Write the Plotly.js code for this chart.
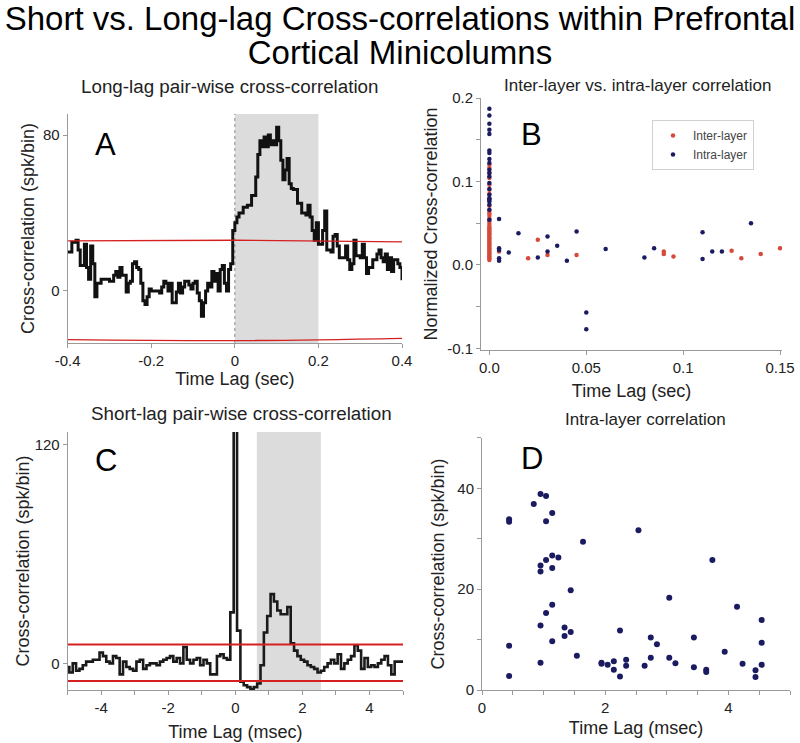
<!DOCTYPE html>
<html>
<head>
<meta charset="utf-8">
<script src="https://cdn.plot.ly/plotly-3.0.1.min.js"></script>
<style>html,body{margin:0;padding:0;background:#fff;}#chart{width:800px;height:743px;}</style>
</head>
<body>
<div id="chart"></div>
<script>
// ---------- Panel A: long-lag cross-correlogram (sec, spk/bin) ----------
var lagA = [-0.4,-0.39,-0.38,-0.375,-0.37,-0.36,-0.355,-0.35,-0.345,-0.34,-0.335,-0.33,-0.32,-0.31,-0.30,-0.29,-0.285,-0.28,-0.275,-0.27,-0.26,-0.255,-0.25,-0.245,-0.24,-0.235,-0.23,-0.225,-0.22,-0.215,-0.21,-0.205,-0.20,-0.19,-0.18,-0.175,-0.17,-0.165,-0.16,-0.155,-0.15,-0.14,-0.135,-0.13,-0.125,-0.12,-0.11,-0.105,-0.10,-0.095,-0.09,-0.085,-0.08,-0.075,-0.07,-0.065,-0.06,-0.055,-0.05,-0.045,-0.04,-0.035,-0.03,-0.025,-0.02,-0.015,-0.01,-0.005,0,0.005,0.01,0.02,0.03,0.04,0.05,0.055,0.06,0.065,0.07,0.075,0.08,0.085,0.09,0.095,0.10,0.105,0.11,0.115,0.12,0.125,0.13,0.135,0.14,0.15,0.16,0.17,0.175,0.18,0.185,0.19,0.195,0.20,0.21,0.215,0.22,0.23,0.235,0.24,0.245,0.25,0.26,0.265,0.27,0.275,0.28,0.285,0.29,0.30,0.305,0.31,0.315,0.32,0.33,0.34,0.345,0.35,0.355,0.36,0.365,0.37,0.375,0.38,0.39,0.395,0.40];
var ccA = [20,25,26,21,13,24,12,6,23,14,-3,4,6,6,5,8,10,7,12,8,-0.5,4,5,14,15,12,11,4,-5,-7,-3,1,0,0,-1,2,5,4,0,4,-6,-0.5,4,-1,2,5,3,1,4,5,-1,-5,-13,-6,0,4,2,10,5,9,0,11,13,4,0,11,14,31,35,38,40,43,44,49,58.5,70,77,74,79,74,80,75,77,75,84,77,67,57,62,68,55,52.5,52,45,40,39,44,38,31,26,35,24,31,41,21,20,28,29,23,17,17,23,16,11,14,26,18,17,24,17,9,12,16,19,21,17,15,19,11,17,10,16,14,12,5.5];
var confLagA = [-0.4, 0, 0.4];
var confUpperA = [25.7, 26.0, 25.2];
var confLowerA = [-25.0, -25.5, -24.3];
var windowA = [0, 0.2];

// ---------- Panel B: peak lag vs normalized cross-correlation ----------
var interLag = [0,0,0,0,0,0,0,0,0,0,0,0,0,0,0,0,0,0,0,0,0,0,0,0,0,0,0,0,0,0,0,0,0,0,0,0,0.005,0.02,0.025,0.03,0.045,0.09,0.09,0.095,0.125,0.13,0.14,0.15];
var interCC  = [0.120,0.116,0.110,0.104,0.096,0.090,0.085,0.079,0.071,0.065,0.062,0.059,0.055,0.052,0.049,0.046,0.044,0.042,0.040,0.038,0.036,0.034,0.032,0.030,0.028,0.026,0.024,0.022,0.020,0.018,0.016,0.014,0.012,0.010,0.008,0.006,0.016,0.008,0.030,0.012,0.012,0.016,0.013,0.010,0.017,0.008,0.013,0.020];
var intraLag = [0,0,0,0,0,0,0,0,0,0,0,0,0,0,0,0,0,0,0,0,0,0.005,0.005,0.005,0.005,0.005,0.01,0.015,0.025,0.03,0.03,0.035,0.04,0.045,0.05,0.05,0.06,0.08,0.085,0.11,0.11,0.115,0.12,0.135];
var intraCC  = [0.187,0.179,0.169,0.162,0.157,0.137,0.134,0.127,0.122,0.114,0.110,0.106,0.098,0.091,0.084,0.080,0.078,0.076,0.072,0.066,0.054,0.055,0.020,0.018,0.008,0.005,0.015,0.038,0.009,0.034,0.016,0.023,0.005,0.040,-0.057,-0.077,0.019,0.009,0.020,0.039,0.007,0.016,0.016,0.050];

// ---------- Panel C: short-lag cross-correlogram (msec, spk/bin) ----------
var lagC = [-5.0,-4.9,-4.8,-4.7,-4.6,-4.5,-4.4,-4.3,-4.2,-4.1,
            -4.0,-3.9,-3.8,-3.7,-3.6,-3.5,-3.4,-3.3,-3.2,-3.1,
            -3.0,-2.9,-2.8,-2.7,-2.6,-2.5,-2.4,-2.3,-2.2,-2.1,
            -2.0,-1.9,-1.8,-1.7,-1.6,-1.5,-1.4,-1.3,-1.2,-1.1,
            -1.0,-0.9,-0.8,-0.7,-0.6,-0.5,-0.4,-0.3,-0.2,-0.1,
            0.0,0.1,0.2,0.3,0.4,0.5,0.6,0.7,0.8,0.9,
            1.0,1.1,1.2,1.3,1.4,1.5,1.6,1.7,1.8,1.9,
            2.0,2.1,2.2,2.3,2.4,2.5,2.6,2.7,2.8,2.9,
            3.0,3.1,3.2,3.3,3.4,3.5,3.6,3.7,3.8,3.9,
            4.0,4.1,4.2,4.3,4.4,4.5,4.6,4.7,4.8,4.9,5.0];
var ccC = [-2,-5,0,-4,-3,-1,1,1,2,2,
           6,4,1,0,4,3,-6,1,-2,-3,
           -4,1,2,-3,-1,0,0,-1,1,2,
           3,4,1,3,0,9,2,0,2,3,
           -1,2,0,-6,-6,4,5,3,2,28,
           135,18,-10,-12,-13,-14,-13,-11,-1,17,
           26,38,34,29,27,27,31,11,7,4,
           2,1,-1,-2,-3,-5,-4,-2,0,2,
           0,5,-3,0,2,4,10,7,-3,3,
           -2,-1,-2,0,2,4,-1,-6,1,1,1];
var confLagC = [-5, 0, 5];
var confUpperC = [10.4, 10.5, 10.4];
var confLowerC = [-9.7, -9.8, -9.7];
var windowC = [0.64, 2.55];

// ---------- Panel D: intra-layer peak lag vs cross-correlation ----------
var lagD = [0.44,0.44,0.44,0.44,0.84,0.95,0.95,0.95,0.95,0.95,1.04,1.04,1.04,1.04,1.14,1.14,1.14,1.14,1.14,1.24,1.34,1.34,1.44,1.44,1.54,1.64,1.94,1.94,2.04,2.14,2.14,2.24,2.24,2.34,2.34,2.54,2.64,2.74,2.74,2.84,3.04,3.04,3.14,3.44,3.44,3.64,3.64,3.74,3.94,4.14,4.23,4.44,4.44,4.54,4.54,4.54];
var ccD  = [33.9,33.4,8.8,2.8,36.9,38.9,24.7,23.5,12.8,5.4,38.5,33.5,25.8,15.3,35.1,26.7,24.2,16.9,9.7,26.3,12.4,10.7,19.8,11.5,6.8,29.4,5.4,5.2,5.0,5.7,4.0,11.8,2.7,6.0,4.8,31.7,4.8,10.4,6.4,9.1,18.3,6.4,5.3,10.4,4.5,4.0,3.6,25.8,7.6,16.5,5.2,3.9,2.6,13.9,9.4,5.0];

// ---------- Tick labels ----------
var ticksA_x = [-0.4,-0.2,0,0.2,0.4], labelsA_x = ['-0.4','-0.2','0','0.2','0.4'];
var ticksA_y = [0,80], labelsA_y = ['0','80'];
var ticksB_x = [0,0.05,0.1,0.15], labelsB_x = ['0.0','0.05','0.1','0.15'];
var ticksB_y = [-0.1,-0.05,0,0.05,0.1,0.15,0.2], labelsB_y = ['-0.1','','0.0','','0.1','','0.2'];
var ticksC_x = [-5,-4,-3,-2,-1,0,1,2,3,4,5], labelsC_x = ['','-4','','-2','','0','','2','','4',''];
var ticksC_y = [0,120], labelsC_y = ['0','120'];
var ticksD_x = [0,0.5,1,1.5,2,2.5,3,3.5,4,4.5,5], labelsD_x = ['0','','','','2','','','','4','',''];
var ticksD_y = [0,10,20,30,40,50], labelsD_y = ['0','','20','','40',''];

var NAVY = '#1b1b62', RED = '#d64a3b', CONF = '#d42020';
var FONT = 'Liberation Sans, Arial, sans-serif';

var traces = [
  {x: lagA, y: ccA, type: 'scatter', mode: 'lines', line: {shape: 'hv', color: '#111', width: 3}, xaxis: 'x', yaxis: 'y', showlegend: false, hoverinfo: 'skip'},
  {x: confLagA, y: confUpperA, type: 'scatter', mode: 'lines', line: {color: CONF, width: 1.3, shape: 'spline'}, xaxis: 'x', yaxis: 'y', showlegend: false},
  {x: confLagA, y: confLowerA, type: 'scatter', mode: 'lines', line: {color: CONF, width: 1.3, shape: 'spline'}, xaxis: 'x', yaxis: 'y', showlegend: false},
  {x: interLag, y: interCC, type: 'scatter', mode: 'markers', name: 'Inter-layer', marker: {color: RED, size: 4.5}, xaxis: 'x2', yaxis: 'y2'},
  {x: intraLag, y: intraCC, type: 'scatter', mode: 'markers', name: 'Intra-layer', marker: {color: NAVY, size: 4.5}, xaxis: 'x2', yaxis: 'y2'},
  {x: lagC, y: ccC, type: 'scatter', mode: 'lines', line: {shape: 'hvh', color: '#1a1a1a', width: 2.6}, xaxis: 'x3', yaxis: 'y3', showlegend: false},
  {x: confLagC, y: confUpperC, type: 'scatter', mode: 'lines', line: {color: CONF, width: 2}, xaxis: 'x3', yaxis: 'y3', showlegend: false},
  {x: confLagC, y: confLowerC, type: 'scatter', mode: 'lines', line: {color: CONF, width: 2}, xaxis: 'x3', yaxis: 'y3', showlegend: false},
  {x: lagD, y: ccD, type: 'scatter', mode: 'markers', marker: {color: NAVY, size: 6}, xaxis: 'x4', yaxis: 'y4', showlegend: false}
];

function ax(extra) {
  var base = {
    showgrid: false, zeroline: false, showline: true, linecolor: '#9a9a9a', linewidth: 1,
    ticks: 'outside', ticklen: 4, tickcolor: '#9a9a9a', tickmode: 'array',
    tickfont: {size: 15, color: '#222', family: FONT},
    automargin: true, fixedrange: true
  };
  for (var k in extra) base[k] = extra[k];
  return base;
}
function ttl(t, s) { return {text: t, standoff: s, font: {size: 18, color: '#222', family: FONT}}; }

var layout = {
  width: 800, height: 743,
  margin: {l: 0, r: 0, t: 0, b: 0, autoexpand: false},
  paper_bgcolor: '#fff', plot_bgcolor: 'rgba(0,0,0,0)',
  font: {family: FONT, color: '#222'},
  title: {text: '<span style="font-size:33px">Short vs. Long-lag Cross-correlations within Prefrontal</span><br><span style="font-size:33px">Cortical Minicolumns</span>',
          font: {size: 26, color: '#000', family: FONT}, x: 0.5, xanchor: 'center', y: 0.960, yanchor: 'top'},
  xaxis:  ax({domain: [0.0846, 0.5025], anchor: 'y', range: [-0.4, 0.4], tickvals: ticksA_x, ticktext: labelsA_x, title: ttl('Time Lag (sec)', 4)}),
  yaxis:  ax({domain: [0.5384, 0.8466], anchor: 'x', range: [-26.7, 90.8], tickvals: ticksA_y, ticktext: labelsA_y, title: ttl('Cross-correlation (spk/bin)', 3)}),
  xaxis2: ax({domain: [0.6013, 0.9775], anchor: 'y2', range: [-0.0043, 0.151], tickvals: ticksB_x, ticktext: labelsB_x, title: ttl('Time Lag (sec)', 9)}),
  yaxis2: ax({domain: [0.5289, 0.8681], anchor: 'x2', range: [-0.102, 0.2], tickvals: ticksB_y, ticktext: labelsB_y, title: ttl('Normalized Cross-correlation', 4)}),
  xaxis3: ax({domain: [0.0846, 0.5038], anchor: 'y3', range: [-5, 5], tickvals: ticksC_x, ticktext: labelsC_x, title: ttl('Time Lag (msec)', 10)}),
  yaxis3: ax({domain: [0.0713, 0.4186], anchor: 'x3', range: [-14.6, 127], tickvals: ticksC_y, ticktext: labelsC_y, title: ttl('Cross-correlation (spk/bin)', 0)}),
  xaxis4: ax({domain: [0.6025, 0.9875], anchor: 'y4', range: [0, 5], tickvals: ticksD_x, ticktext: labelsD_x, title: ttl('Time Lag (msec)', 6)}),
  yaxis4: ax({domain: [0.0713, 0.4105], anchor: 'x4', range: [0, 50], tickvals: ticksD_y, ticktext: labelsD_y, title: ttl('Cross-correlation (spk/bin)', 8)}),
  showlegend: true,
  legend: {x: 652/800, y: 1 - 120/743, xanchor: 'left', yanchor: 'top', bgcolor: '#fff', bordercolor: '#d0d0d0', borderwidth: 1,
           font: {size: 12, color: '#444', family: FONT}, itemwidth: 30, tracegroupgap: 0},
  shapes: [
    {type: 'rect', xref: 'x', yref: 'y domain', x0: windowA[0], x1: windowA[1], y0: 0, y1: 1, fillcolor: '#dcdcdc', line: {width: 0}, layer: 'below'},
    {type: 'line', xref: 'x', yref: 'y domain', x0: 0, x1: 0, y0: 0, y1: 1, line: {color: '#888', width: 1, dash: 'dot'}, layer: 'below'},
    {type: 'rect', xref: 'x3', yref: 'y3 domain', x0: windowC[0], x1: windowC[1], y0: 0, y1: 1, fillcolor: '#dcdcdc', line: {width: 0}, layer: 'below'}
  ],
  annotations: [
    {text: 'Long-lag pair-wise cross-correlation', xref: 'paper', yref: 'paper', x: 230/800, y: 1 - 87/743, xanchor: 'center', yanchor: 'middle', showarrow: false, font: {size: 18.8, color: '#222', family: FONT}},
    {text: 'Inter-layer vs. intra-layer correlation', xref: 'paper', yref: 'paper', x: 637/800, y: 1 - 86/743, xanchor: 'center', yanchor: 'middle', showarrow: false, font: {size: 17, color: '#222', family: FONT}},
    {text: 'Short-lag pair-wise cross-correlation', xref: 'paper', yref: 'paper', x: 241/800, y: 1 - 413/743, xanchor: 'center', yanchor: 'middle', showarrow: false, font: {size: 18.8, color: '#222', family: FONT}},
    {text: 'Intra-layer correlation', xref: 'paper', yref: 'paper', x: 645/800, y: 1 - 419/743, xanchor: 'center', yanchor: 'middle', showarrow: false, font: {size: 17, color: '#222', family: FONT}},
    {text: 'A', xref: 'paper', yref: 'paper', x: 105/800, y: 1 - 144/743, xanchor: 'center', yanchor: 'middle', showarrow: false, font: {size: 31, color: '#000', family: FONT}},
    {text: 'B', xref: 'paper', yref: 'paper', x: 531/800, y: 1 - 134/743, xanchor: 'center', yanchor: 'middle', showarrow: false, font: {size: 31, color: '#000', family: FONT}},
    {text: 'C', xref: 'paper', yref: 'paper', x: 106/800, y: 1 - 460/743, xanchor: 'center', yanchor: 'middle', showarrow: false, font: {size: 31, color: '#000', family: FONT}},
    {text: 'D', xref: 'paper', yref: 'paper', x: 532/800, y: 1 - 458/743, xanchor: 'center', yanchor: 'middle', showarrow: false, font: {size: 31, color: '#000', family: FONT}}
  ]
};

Plotly.newPlot('chart', traces, layout, {displayModeBar: false, staticPlot: true});
</script>
</body>
</html>
